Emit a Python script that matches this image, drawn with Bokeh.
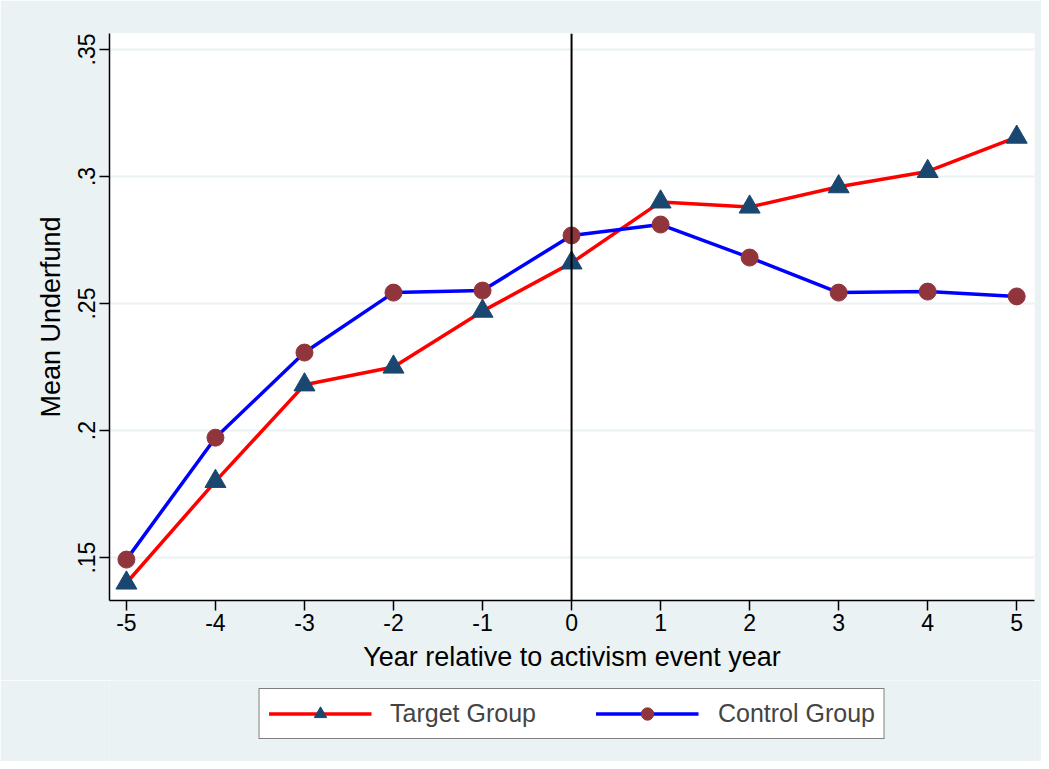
from bokeh.plotting import figure
from bokeh.layouts import column
from bokeh.models import Range1d, FixedTicker, Legend, LegendItem, Span
from bokeh.embed import file_html
from bokeh.resources import INLINE

years = [-5, -4, -3, -2, -1, 0, 1, 2, 3, 4, 5]
target = [0.140, 0.180, 0.218, 0.225, 0.247, 0.266, 0.290, 0.288, 0.296, 0.302, 0.3155]
control = [0.1492, 0.1972, 0.2307, 0.2543, 0.2551, 0.2768, 0.2811, 0.2681, 0.2543, 0.2547, 0.2528]
y_ticks = [0.15, 0.2, 0.25, 0.3, 0.35]
y_tick_labels = [".15", ".2", ".25", ".3", ".35"]
x_ticks = years
series_names = ["Target Group", "Control Group"]
FONT = "Liberation Sans"
BG = "#EAF2F3"
RED, BLUE, NAVY, MAROON = "#ff0000", "#0000ff", "#1a476f", "#90353b"

p = figure(frame_width=925, frame_height=567, output_backend="svg", toolbar_location=None,
           x_range=Range1d(-5.19, 5.2), y_range=Range1d(0.1331, 0.3563),
           min_border_left=109, min_border_top=33, min_border_right=7, min_border_bottom=80)
p.border_fill_color = BG
p.background_fill_color = "white"
p.outline_line_color = None

# grid
p.xgrid.grid_line_color = None
p.ygrid.grid_line_color = BG
p.ygrid.grid_line_width = 2
p.ygrid.ticker = FixedTicker(ticks=y_ticks)

# axes
p.yaxis.ticker = FixedTicker(ticks=y_ticks)
p.yaxis.major_label_overrides = {t: l for t, l in zip(y_ticks, y_tick_labels)}
p.yaxis.major_label_orientation = "vertical"
p.xaxis.ticker = FixedTicker(ticks=x_ticks)
p.xaxis.major_label_overrides = {t: str(t) for t in x_ticks}
for ax in (p.xaxis[0], p.yaxis[0]):
    ax.axis_line_color = "black"
    ax.axis_line_width = 1.5
    ax.major_tick_line_color = "black"
    ax.major_tick_line_width = 1.5
    ax.major_tick_out = 10
    ax.major_tick_in = 0
    ax.minor_tick_line_color = None
    ax.major_label_text_font = FONT
    ax.major_label_text_font_size = "23px"
    ax.major_label_text_color = "black"
    ax.axis_label_text_font = FONT
    ax.axis_label_text_font_size = "27px"
    ax.axis_label_text_font_style = "normal"
    ax.axis_label_text_color = "black"
p.xaxis.axis_label = "Year relative to activism event year"
p.yaxis.axis_label = "Mean Underfund"
p.xaxis.major_label_standoff = 3
p.xaxis.axis_label_standoff = 8
p.yaxis.major_label_standoff = 4
p.yaxis.axis_label_standoff = 10

# vertical line at event year
p.add_layout(Span(location=0, dimension="height", line_color="black", line_width=2))

p.line(years, target, line_color=RED, line_width=3.5)
p.scatter(years, target, marker="triangle", size=21, fill_color=NAVY, line_color=NAVY)
p.line(years, control, line_color=BLUE, line_width=3.5)
p.scatter(years, control, marker="circle", size=17, fill_color=MAROON, line_color=MAROON)

# legend strip below the plot (separate figure so the legend box is not clipped)
q = figure(frame_width=925, frame_height=81, output_backend="svg", toolbar_location=None,
           x_range=Range1d(100, 101), y_range=Range1d(100, 101),
           x_axis_location=None, y_axis_location=None,
           min_border_left=109, min_border_top=0, min_border_right=7, min_border_bottom=0)
q.border_fill_color = BG
q.background_fill_color = BG
q.outline_line_color = None
q.xgrid.grid_line_color = None
q.ygrid.grid_line_color = None
ql1 = q.line(years, target, line_color=RED, line_width=3.5)
qs1 = q.scatter(years, target, marker="triangle", size=21, fill_color=NAVY, line_color=NAVY)
ql2 = q.line(years, control, line_color=BLUE, line_width=3.5)
qs2 = q.scatter(years, control, marker="circle", size=17, fill_color=MAROON, line_color=MAROON)

legend = Legend(items=[LegendItem(label=series_names[0], renderers=[ql1, qs1]),
                       LegendItem(label=series_names[1], renderers=[ql2, qs2])],
                orientation="horizontal", location="top_center",
                label_text_font=FONT, label_text_font_size="25px",
                glyph_width=103, glyph_height=31, label_standoff=19, spacing=60,
                padding=9, margin=8,
                border_line_color="black", border_line_width=1.5,
                background_fill_color="white", background_fill_alpha=1.0)
q.add_layout(legend, "center")

layout = column(p, q, spacing=0)
open("out.html", "w").write(file_html(layout, INLINE))
